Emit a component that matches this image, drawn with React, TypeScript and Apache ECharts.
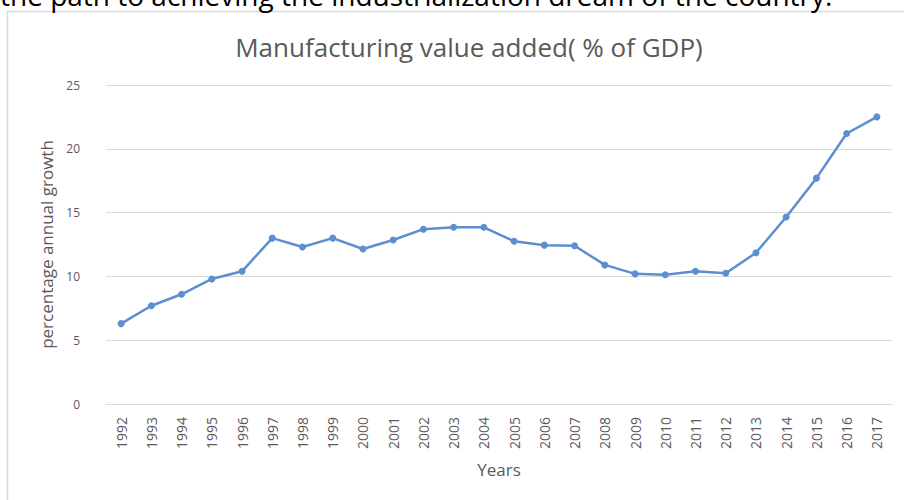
import React, { useEffect, useRef } from "react";
import * as echarts from "echarts";

const years = [
  "1992", "1993", "1994", "1995", "1996", "1997", "1998", "1999", "2000",
  "2001", "2002", "2003", "2004", "2005", "2006", "2007", "2008", "2009",
  "2010", "2011", "2012", "2013", "2014", "2015", "2016", "2017",
];
const values = [
  6.3, 7.7, 8.6, 9.8, 10.4, 13.0, 12.3, 13.0, 12.15, 12.85, 13.7, 13.85, 13.85,
  12.75, 12.45, 12.4, 10.9, 10.2, 10.13, 10.4, 10.25, 11.85, 14.65, 17.7, 21.2, 22.5,
];
const yTicks = { min: 0, max: 25, interval: 5 };

const titleText = "Manufacturing value added( % of GDP)";
const pageText = "the path to achieving the industrialization dream of the country.";
const yName = "percentage annual growth";
const xName = "Years";

const FONT = "'Open Sans', 'Liberation Sans', sans-serif";
const GRAY = "#595959";

export default function App() {
  const ref = useRef<HTMLDivElement>(null);
  useEffect(() => {
    if (!ref.current) return;
    const chart = echarts.init(ref.current, null, { renderer: "svg" });
    chart.setOption({
      animation: false,
      backgroundColor: "#ffffff",
      textStyle: { fontFamily: FONT },
      title: {
        text: titleText,
        left: 464,
        top: 29,
        textAlign: "center",
        textStyle: { fontFamily: FONT, fontSize: 26, fontWeight: "normal", color: GRAY },
      },
      graphic: [
        {
          type: "rect",
          shape: { x: 7.5, y: 11.5, width: 1000, height: 600 },
          style: { fill: "none", stroke: "#d9d9d9", lineWidth: 1.5 },
          silent: true,
        },
        {
          type: "text",
          x: 0,
          y: 9,
          style: {
            text: pageText,
            fill: "#000000",
            font: "28px 'Open Sans', sans-serif",
            textVerticalAlign: "bottom",
          },
          silent: true,
        },
      ],
      grid: { left: 106, right: 12, top: 85, bottom: 96 },
      xAxis: {
        type: "category",
        data: years,
        boundaryGap: true,
        axisLine: { show: true, lineStyle: { color: "#d9d9d9", width: 1 } },
        axisTick: { show: false },
        axisLabel: { rotate: 90, color: GRAY, fontSize: 14, margin: 13, fontFamily: FONT },
        name: xName,
        nameLocation: "middle",
        nameGap: 57,
        nameTextStyle: { color: GRAY, fontSize: 17, fontFamily: FONT },
      },
      yAxis: {
        type: "value",
        min: yTicks.min,
        max: yTicks.max,
        interval: yTicks.interval,
        axisLine: { show: false },
        axisTick: { show: false },
        axisLabel: { color: GRAY, fontSize: 12, margin: 26, fontFamily: FONT },
        splitLine: { lineStyle: { color: "#d9d9d9", width: 1 } },
        name: yName,
        nameLocation: "middle",
        nameGap: 48,
        nameRotate: 90,
        nameTextStyle: { color: GRAY, fontSize: 17, fontFamily: FONT },
      },
      series: [
        {
          type: "line",
          data: values,
          symbol: "circle",
          symbolSize: 7,
          lineStyle: { color: "#5b8fcf", width: 2.5 },
          itemStyle: { color: "#5b8fcf" },
        },
      ],
    });
    return () => chart.dispose();
  }, []);
  return (
    <div
      ref={ref}
      style={{ position: "fixed", left: 0, top: 0, width: 904, height: 500 }}
    />
  );
}
